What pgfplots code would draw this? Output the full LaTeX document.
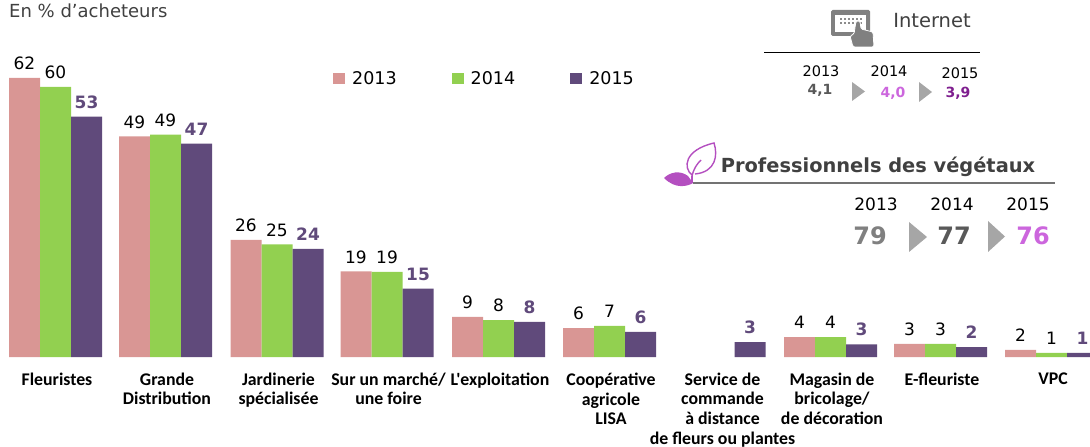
\documentclass[border=0pt]{standalone}
\usepackage{fontspec}
\setmainfont{DejaVu Sans}
\newfontfamily\calibri{Carlito}
\usepackage{pgfplots}
\pgfplotsset{compat=1.18}
\definecolor{pinkbar}{HTML}{D99694}
\definecolor{greenbar}{HTML}{92D050}
\definecolor{purplebar}{HTML}{604A7B}
\definecolor{orchid}{HTML}{CC66DD}
\definecolor{leaf}{HTML}{B44FC0}
\definecolor{plum}{HTML}{7F1F8F}
\definecolor{greytxt}{HTML}{595959}
\definecolor{arrowgrey}{HTML}{A6A6A6}
\newcommand{\fs}[1]{\fontsize{#1}{#1}\selectfont}

\begin{document}
\begin{tikzpicture}
\path[use as bounding box] (0,0) rectangle (1090pt,447pt);
\clip (0,0) rectangle (1090pt,447pt);
\begin{axis}[
  at={(0pt,90pt)},
  anchor=south west,
  scale only axis,
  width=1090pt,
  height=357pt,
  xmin=0,xmax=1090,
  ymin=0,ymax=79.33,
  axis lines=left,
  axis line style={draw=none,-},
  tick style={draw=none},
  major tick length=0pt,
  ytick=\empty,
  xtick={55.5,165.5,277,387,498.5,609.5,721,830.5,940.5,1051.5},
  xticklabels={Fleuristes,{Grande\\Distribution},{Jardinerie\\spécialisée},{Sur un marché/\\une foire},L'exploitation,{Coopérative\\agricole\\LISA},{Service de\\commande\\à distance\\de fleurs ou plantes},{Magasin de\\bricolage/\\de décoration},E-fleuriste,VPC},
  x tick label style={font=\calibri\bfseries\fontsize{17.8}{19.8}\selectfont,align=center,anchor=north,inner ysep=0pt,yshift=-15.5pt,xshift=1.5pt,text=black},
  ybar=0pt,
  bar width=31pt,
  /pgf/number format/.cd,fixed,precision=0,assume math mode=true,
  /pgfplots/.cd,
  nodes near coords,
  every node near coord/.append style={font=\fs{17},text=black,inner sep=3pt,yshift=5pt},
  legend columns=3,
  legend style={at={(axis cs:333,61.8)},anchor=west,draw=none,fill=none,font=\fs{17.5},
    nodes={inner sep=0pt},
    /tikz/every odd column/.append style={column sep=7pt},
    /tikz/every even column/.append style={column sep=55pt},inner sep=0pt},
  legend image code/.code={\fill[#1] (0pt,-5.5pt) rectangle (12pt,5.5pt);},
]
\addplot[fill=pinkbar,draw=none] coordinates
  {(55.5,62) (165.5,49) (277,26) (387,19) (498.5,8.9) (609.5,6.4) (830.5,4.4) (940.5,2.9) (1051.5,1.6)};
\addplot[fill=greenbar,draw=none] coordinates
  {(55.5,60) (165.5,49.4) (277,25) (387,18.9) (498.5,8.2) (609.5,6.9) (830.5,4.4) (940.5,2.9) (1051.5,0.9)};
\addplot[fill=purplebar,draw=none,every node near coord/.append style={font=\bfseries\fs{17},text=purplebar}] coordinates
  {(55.5,53.4) (165.5,47.4) (277,24) (387,15.2) (498.5,7.8) (609.5,5.6) (719,3.3) (830.5,2.8) (940.5,2.2) (1051.5,0.9)};
\legend{2013,2014,2015}
\end{axis}

% everything below in reference pixel coordinates
\begin{scope}[x=1pt,y=-1pt,yshift=447pt]
\node[text=black!75,font=\fs{18},anchor=west,inner sep=0pt] at (9,11) {En \% d’acheteurs};

% Internet block
\fill[black!50,rounded corners=1.5pt] (831,10) rectangle (870,36);
\fill[white] (835,15) rectangle (866,32);
\foreach \x in {840,844,848,852,856,860}{\fill[black!45] (\x,18) rectangle +(2,2);\fill[black!45] (\x,22) rectangle +(2,2);}
\fill[black!50,draw=white,line width=.8pt,rounded corners=1.5pt] (853,47) -- (850,36) -- (854,34) -- (856,21) -- (860,21) -- (861,29) -- (873,32) -- (874,47) -- cycle;
\node[text=black!75,font=\fs{19.5},inner sep=0pt] at (932,21) {Internet};
\draw[black,line width=.6pt] (764,52) -- (980,52);
\node[font=\fs{14.5},inner sep=0pt] at (821,71) {2013};
\node[font=\fs{14.5},inner sep=0pt] at (889,71) {2014};
\node[font=\fs{14.5},inner sep=0pt] at (960,73) {2015};
\node[font=\bfseries\fs{14},text=greytxt,inner sep=0pt] at (820,90) {4,1};
\node[font=\bfseries\fs{14},text=orchid,inner sep=0pt] at (893,93) {4,0};
\node[font=\bfseries\fs{14},text=plum,inner sep=0pt] at (958,93) {3,9};
\fill[arrowgrey] (852,82) -- (865,91.5) -- (852,101) -- cycle;
\fill[arrowgrey] (919,82) -- (932,92) -- (919,102) -- cycle;

% Professionnels block
\fill[leaf] (664,178) .. controls (670,172) and (680,170) .. (688,176) -- (693,183) .. controls (688,186) and (676,190) .. (664,178) -- cycle;
\draw[leaf,line width=1.4pt] (692,183) -- (692,176);
\draw[leaf,line width=1.4pt] (692,175) .. controls (683,168) and (684,150) .. (714,143) .. controls (718,155) and (716,172) .. (695,174);
\draw[leaf,line width=1.4pt] (692,176) .. controls (694,168) and (697,164) .. (701,160);
\node[text=black!75,font=\bfseries\fs{19.4},inner sep=0pt] at (878,167) {Professionnels des végétaux};
\draw[black!55,line width=1.8pt] (693,183) -- (1055,183);
\node[font=\fs{17},inner sep=0pt] at (876,204) {2013};
\node[font=\fs{17},inner sep=0pt] at (952,204) {2014};
\node[font=\fs{17},inner sep=0pt] at (1028,204) {2015};
\node[font=\bfseries\fs{24},text=black!50,inner sep=0pt] at (870,236) {79};
\node[font=\bfseries\fs{24},text=greytxt,inner sep=0pt] at (954,236) {77};
\node[font=\bfseries\fs{24},text=orchid,inner sep=0pt] at (1033,236) {76};
\fill[arrowgrey] (909,222) -- (927,237) -- (909,252) -- cycle;
\fill[arrowgrey] (988,221) -- (1005,236.5) -- (988,252) -- cycle;
\end{scope}
\end{tikzpicture}
\end{document}
